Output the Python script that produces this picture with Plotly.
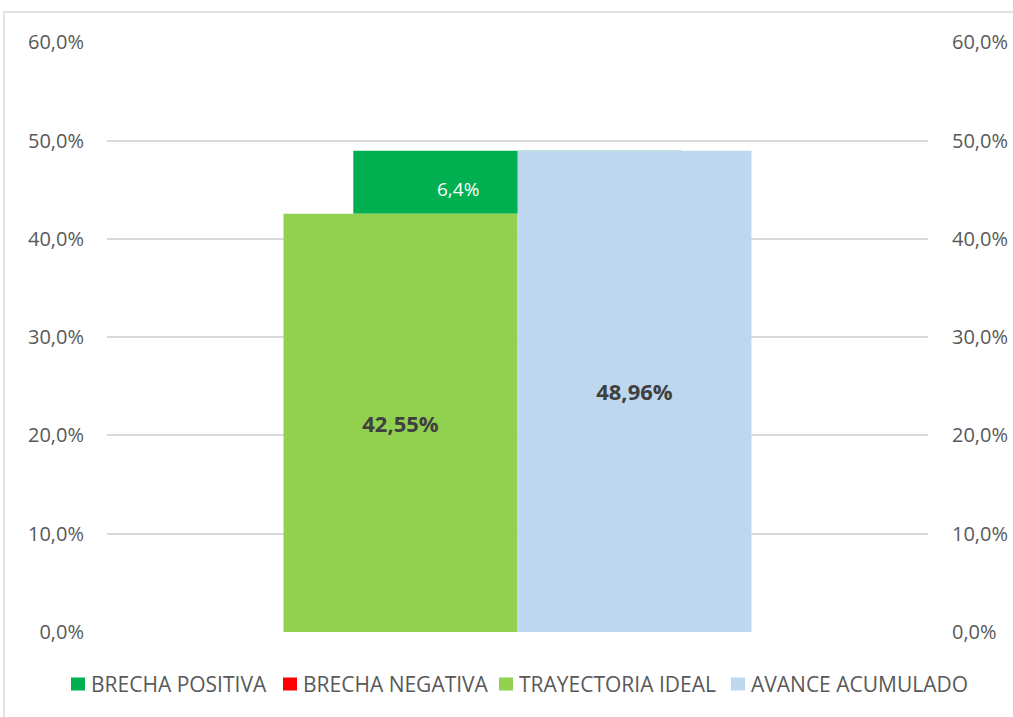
import plotly.graph_objects as go

categories = ["Avance"]
brecha_positiva = [6.41]
brecha_negativa = [0.0]
trayectoria_ideal = [42.55]
avance_acumulado = [48.96]
y_ticks = [0, 10, 20, 30, 40, 50, 60]
y_tick_labels = [f"{v:.1f}%".replace(".", ",") for v in y_ticks]

series_names = ["BRECHA POSITIVA", "BRECHA NEGATIVA", "TRAYECTORIA IDEAL", "AVANCE ACUMULADO"]
series_colors = ["#00B050", "#FF0000", "#92D050", "#BDD7EE"]

FONT = "Open Sans"
TICK_COLOR = "#595959"

W, H = 1013, 717
ML, MR, MT, MB = 107, 85, 42, 85
PW, PH = W - ML - MR, H - MT - MB


def px_to_paper_x(px):
    return (px - ML) / PW


def px_to_paper_y(py):
    return (H - MB - py) / PH


fig = go.Figure()

fig.add_trace(go.Bar(
    name=series_names[0], x=[0], y=brecha_positiva, base=trayectoria_ideal,
    width=0.4, offset=-0.2, marker=dict(color=series_colors[0], line=dict(width=0)),
    hoverinfo="skip",
))
fig.add_trace(go.Bar(
    name=series_names[1], x=[0], y=brecha_negativa, base=trayectoria_ideal,
    width=0.4, offset=-0.2, marker=dict(color=series_colors[1], line=dict(width=0)),
    hoverinfo="skip",
))
fig.add_trace(go.Bar(
    name=series_names[2], x=[0], y=trayectoria_ideal,
    width=0.285, offset=-0.285, marker=dict(color=series_colors[2], line=dict(width=0)),
    texttemplate="<b>%{y:.2f}%</b>", textposition="inside", insidetextanchor="middle",
    textfont=dict(family=FONT, size=22, color="#404040"), textangle=0,
))
fig.add_trace(go.Bar(
    name=series_names[3], x=[0], y=avance_acumulado,
    width=0.285, offset=0.0, marker=dict(color=series_colors[3], line=dict(width=0)),
    texttemplate="<b>%{y:.2f}%</b>", textposition="inside", insidetextanchor="middle",
    textfont=dict(family=FONT, size=22, color="#404040"), textangle=0,
))
fig.add_trace(go.Scatter(x=[0], y=[0], yaxis="y2", mode="markers",
                         marker=dict(opacity=0), showlegend=False, hoverinfo="skip"))

fig.add_annotation(
    x=-0.073, y=trayectoria_ideal[0] + brecha_positiva[0] * 0.4,
    text=f"{brecha_positiva[0]:.1f}%".replace(".", ","),
    showarrow=False, font=dict(family=FONT, size=19, color="white"),
)

# chart outer border
fig.add_shape(type="rect", xref="paper", yref="paper",
              x0=px_to_paper_x(4), x1=px_to_paper_x(1100),
              y0=px_to_paper_y(800), y1=px_to_paper_y(12),
              line=dict(color="#d9d9d9", width=1.5), fillcolor="rgba(0,0,0,0)", layer="below")

# legend (drawn manually so it stays on one row like the original)
legend_marker_px = [71, 283, 499, 731]
legend_y_px = 684
for name, color, mx in zip(series_names, series_colors, legend_marker_px):
    fig.add_shape(type="rect", xref="paper", yref="paper",
                  x0=px_to_paper_x(mx), x1=px_to_paper_x(mx + 14),
                  y0=px_to_paper_y(legend_y_px + 6.5), y1=px_to_paper_y(legend_y_px - 6.5),
                  line=dict(width=0), fillcolor=color)
    fig.add_annotation(xref="paper", yref="paper",
                       x=px_to_paper_x(mx + 18), y=px_to_paper_y(legend_y_px),
                       xanchor="left", yanchor="middle", showarrow=False, text=name,
                       font=dict(family=FONT, size=21, color=TICK_COLOR))

axis_common = dict(
    range=[0, 60.02], tickvals=y_ticks, ticktext=y_tick_labels,
    tickfont=dict(family=FONT, size=20, color=TICK_COLOR),
    showline=False, zeroline=False, ticks="", automargin=False,
)
fig.update_layout(
    width=W, height=H,
    margin=dict(l=ML, r=MR, t=MT, b=MB),
    paper_bgcolor="white", plot_bgcolor="white",
    barmode="overlay",
    separators=",.",
    showlegend=False,
    xaxis=dict(range=[-0.5, 0.5], showticklabels=False, showgrid=False,
               zeroline=False, showline=False, ticks="", automargin=False),
    yaxis=dict(showgrid=True, gridcolor="#d9d9d9", gridwidth=1.5, ticklabelstandoff=22, **axis_common),
    yaxis2=dict(overlaying="y", side="right", showgrid=False, ticklabelstandoff=23, **axis_common),
)

fig.write_html("out.html", config={"displayModeBar": False},
               post_script="document.body.style.margin='0';")
